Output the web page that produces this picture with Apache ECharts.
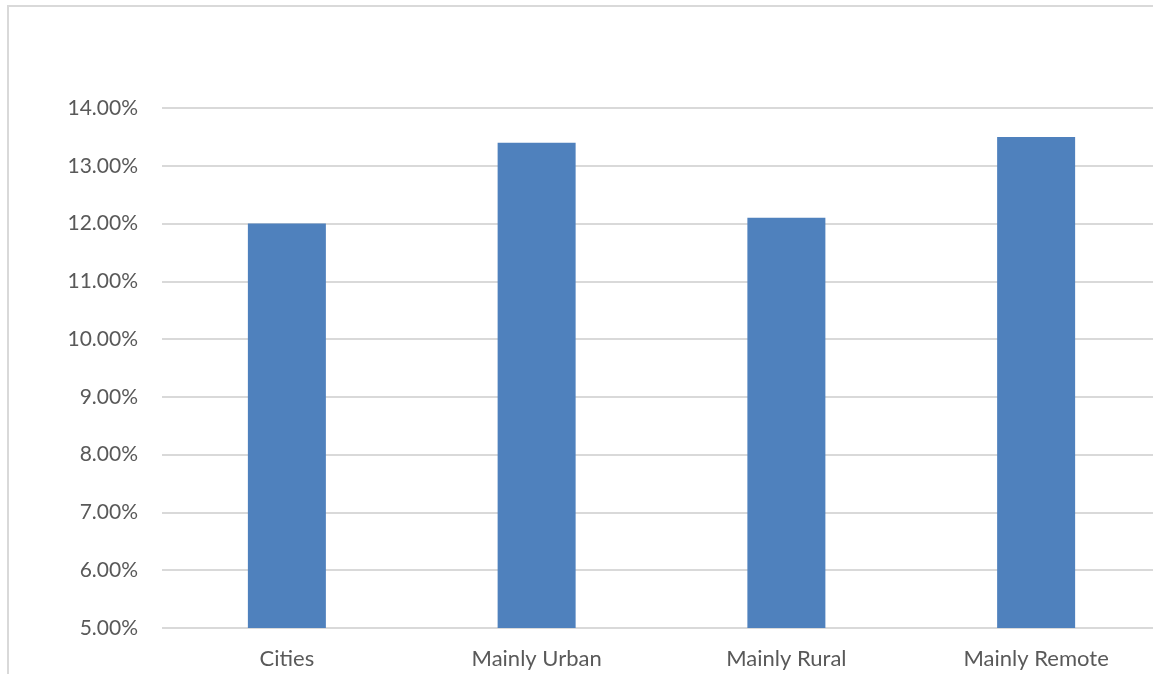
<!DOCTYPE html>
<html>
<head>
<meta charset="utf-8">
<script src="https://cdn.jsdelivr.net/npm/echarts@6/dist/echarts.min.js"></script>
<style>
  html, body { margin: 0; padding: 0; background: #fff; }
  #chart { width: 1153px; height: 674px; }
</style>
</head>
<body>
<div id="chart"></div>
<script>
// Share by area type
const categories = ['Cities', 'Mainly Urban', 'Mainly Rural', 'Mainly Remote'];
const shares = [0.120, 0.134, 0.121, 0.135];
const axisMin = 0.05;
const axisMax = 0.14;
const axisStep = 0.01;

const chart = echarts.init(document.getElementById('chart'));
const labelFont = 'Lato, "Open Sans", sans-serif';

chart.setOption({
  animation: false,
  backgroundColor: '#ffffff',
  graphic: [{
    type: 'rect',
    shape: { x: 8, y: 6, width: 1300, height: 800 },
    style: { fill: 'none', stroke: '#d9d9d9', lineWidth: 2 },
    silent: true
  }],
  // plot area runs a little past the right edge of the canvas
  grid: { left: 162, top: 108, right: -8, bottom: 46, outerBoundsMode: 'none' },
  xAxis: {
    type: 'category',
    data: categories,
    axisLine: { show: false },
    axisTick: { show: false },
    axisLabel: { color: '#595959', fontSize: 22, fontFamily: labelFont, margin: 20 }
  },
  yAxis: {
    type: 'value',
    min: axisMin,
    max: axisMax,
    interval: axisStep,
    axisLine: { show: false },
    axisTick: { show: false },
    splitLine: { lineStyle: { color: '#d9d9d9', width: 2 } },
    axisLabel: {
      color: '#595959', fontSize: 21, fontFamily: labelFont, margin: 24,
      formatter: v => (v * 100).toFixed(2) + '%'
    }
  },
  series: [{
    type: 'bar',
    data: shares,
    barWidth: 78,
    itemStyle: { color: '#4f81bd' }
  }]
});
</script>
</body>
</html>
